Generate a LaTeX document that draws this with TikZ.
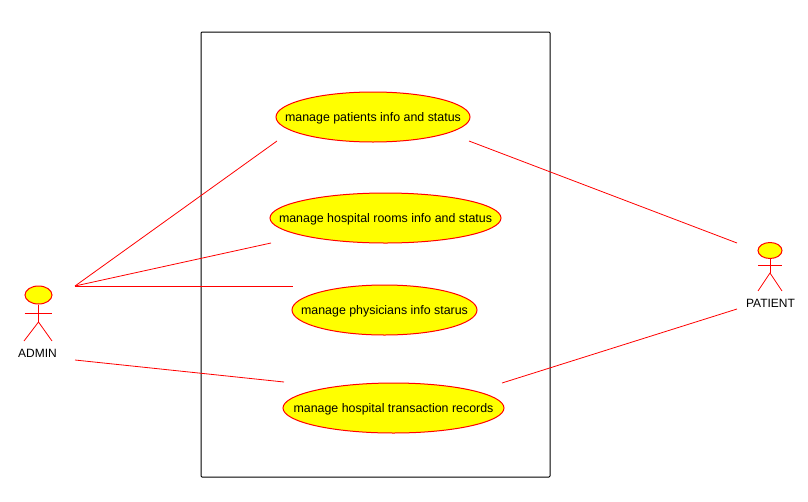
\documentclass[tikz,border=0pt]{standalone}
\usepackage{fontspec}
\setmainfont{Liberation Sans}
\usetikzlibrary{shapes.geometric}
\definecolor{ucyellow}{RGB}{255,255,0}
\definecolor{ucred}{RGB}{255,0,0}
\tikzset{
  usecase/.style={ellipse, draw=ucred, line width=1, fill=ucyellow, inner sep=0pt, minimum height=50, font=\fontsize{12.4}{14}\selectfont},
  head/.style={ellipse, draw=ucred, line width=1, fill=ucyellow, inner sep=0pt},
  actorname/.style={inner sep=0pt, font=\fontsize{12}{14}\selectfont},
  link/.style={ucred, line width=0.8}
}
\newcommand{\uctext}[1]{\makebox[0pt]{\raisebox{-4.5pt}[0pt][0pt]{#1}}}
\begin{document}
\begin{tikzpicture}[x=1pt,y=-1pt]
\useasboundingbox (0,0) rectangle (808,501);
\fill[white] (0,0) rectangle (808,501);

% system box
\draw[black, line width=1, rounded corners=1] (201,32) rectangle (550,477);

% use cases
\node[usecase, minimum width=194] (patients) at (373,117) {\uctext{manage patients info and status}};
\node[usecase, minimum width=231] (rooms) at (385.5,218) {\uctext{manage hospital rooms info and status}};
\node[usecase, minimum width=185] (physicians) at (384.5,310) {\uctext{manage physicians info starus}};
\node[usecase, minimum width=221] (records) at (393.5,408) {\uctext{manage hospital transaction records}};

% admin
\node[head, minimum width=27, minimum height=18] (adminhead) at (38.5,295) {};
\coordinate (adminhip) at (38.5,322);
\draw[link] (adminhead.south) -- (adminhip);
\draw[link] (24.5,313) -- (52,313);
\draw[link] (24,341) -- (adminhip) -- (52,341);
\node[actorname] (admin) at (37.5,353) {ADMIN};

% patient
\node[head, minimum width=24, minimum height=16] (patienthead) at (770,250.5) {};
\coordinate (patienthip) at (770,273);
\draw[link] (patienthead.south) -- (patienthip);
\draw[link] (758,265) -- (782,265);
\draw[link] (758,291) -- (patienthip) -- (782,291);
\node[actorname] (patient) at (770.5,303) {PATIENT};

% connector ends
\coordinate (adminout) at (75,286);
\coordinate (adminlow) at (75,360);
\coordinate (patientup) at (737,243);
\coordinate (patientlow) at (737,309);
\coordinate (patientsleft) at (277,141);
\coordinate (patientsright) at (469,141);
\coordinate (roomsleft) at (271,243);
\coordinate (physiciansleft) at (293,286);
\coordinate (recordsleft) at (284,382);
\coordinate (recordsright) at (502,383);

% links
\draw[link] (adminout) -- (patientsleft);
\draw[link] (adminout) -- (roomsleft);
\draw[link] (adminout) -- (physiciansleft);
\draw[link] (adminlow) -- (recordsleft);
\draw[link] (patientsright) -- (patientup);
\draw[link] (recordsright) -- (patientlow);
\end{tikzpicture}
\end{document}
